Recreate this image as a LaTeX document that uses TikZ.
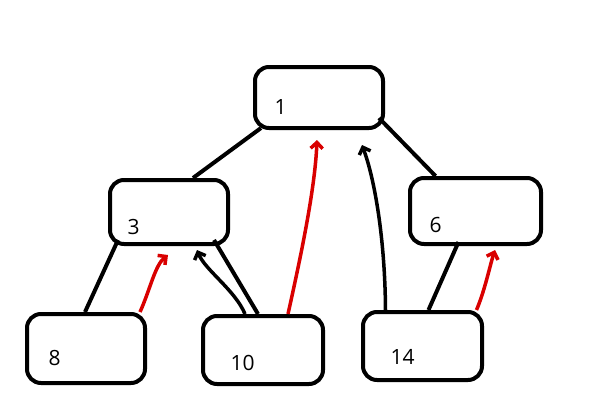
\documentclass[tikz,border=0pt]{standalone}
\usepackage{fontspec}
\setmainfont{Open Sans}
\usetikzlibrary{arrows.meta}
\begin{document}
\begin{tikzpicture}[x=1pt,y=-1pt,
  box/.style={draw,line width=4pt,rounded corners=14pt,inner sep=0pt},
  num/.style={font=\fontsize{21}{21}\selectfont},
  edge/.style={line width=4pt},
  back/.style={line width=3.5pt,-{Straight Barb[length=6pt,width=12pt]}},
  redback/.style={back,red!85!black}]
\useasboundingbox (0,0) rectangle (606,413);
\node[box,minimum width=128pt,minimum height=61pt,label={[num,anchor=south west,xshift=18pt,yshift=12pt]south west:1}] (one) at (319,97.5) {};
\node[box,minimum width=118pt,minimum height=64pt,label={[num,anchor=south west,xshift=16pt,yshift=8pt]south west:3}] (three) at (169,212) {};
\node[box,minimum width=131pt,minimum height=66pt,label={[num,anchor=south west,xshift=18pt,yshift=10pt]south west:6}] (six) at (475.5,211) {};
\node[box,minimum width=118pt,minimum height=69pt,label={[num,anchor=south west,xshift=20pt,yshift=16pt]south west:8}] (eight) at (86,348.5) {};
\node[box,minimum width=120pt,minimum height=68pt,label={[num,anchor=south west,xshift=26pt,yshift=12pt]south west:10}] (ten) at (263,350) {};
\node[box,minimum width=119pt,minimum height=68pt,label={[num,anchor=south west,xshift=26pt,yshift=14pt]south west:14}] (fourteen) at (422.5,346) {};
% tree edges
\draw[edge] (one.south west) ++(8,-2) -- ([xshift=24pt]three.north);
\draw[edge] (one.south east) ++(-6,-12) -- ([xshift=-40pt]six.north);
\draw[edge] (three.south west) ++(10,-6) -- ([xshift=-1pt]eight.north);
\draw[edge] (three.south east) ++(-16,-6) -- ([xshift=-5pt]ten.north);
\draw[edge] (six.south) ++(-17,-4) -- ([xshift=6pt]fourteen.north);
% black back edges
\draw[back] ([xshift=-18pt]ten.north) .. controls (235,290) and (205,270) .. (197,250);
\draw[back] ([xshift=-37pt]fourteen.north) .. controls (385,240) and (375,180) .. (362,145);
% red back edges
\draw[redback] ([xshift=54pt]eight.north) .. controls (150,290) and (155,265) .. (168,255);
\draw[redback] ([xshift=25pt]ten.north) .. controls (300,260) and (315,190) .. (317,140);
\draw[redback] ([xshift=54pt]fourteen.north) .. controls (485,290) and (490,265) .. (495,250);
\end{tikzpicture}
\end{document}
